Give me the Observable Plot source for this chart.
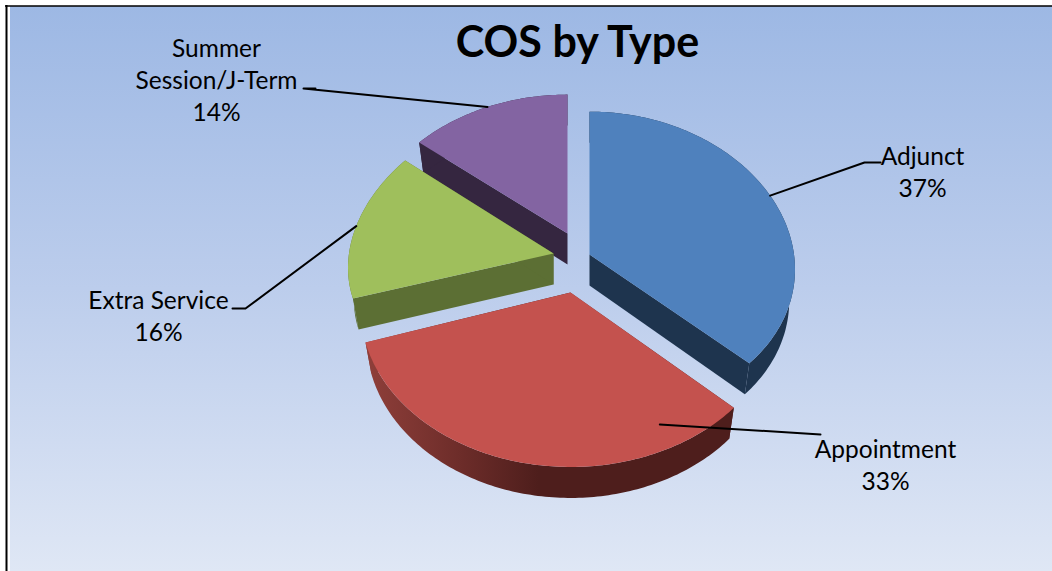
<!DOCTYPE html>
<html><head><meta charset="utf-8">
<style>html,body{margin:0;padding:0;background:#fff}svg{display:block}</style>
<script src="https://cdn.jsdelivr.net/npm/d3@7"></script>
<script src="https://cdn.jsdelivr.net/npm/@observablehq/plot@0.6"></script>
</head><body><div id="chart"></div>
<script>
const categories = ["Adjunct", "Appointment", "Extra Service", "Summer\nSession/J-Term"];
const values = [37, 33, 16, 14];
const title = "COS by Type";

// Appearance and layout, separate from the data
const topColors = ["#4f81bd", "#c4524e", "#9fbf5c", "#8364a2"];
const wallColors = ["#1e344e", "url(#redWall)", "#5c6f34", "#352640"];
const explode = [[17, -8], [-2, 30], [-19, -9], [-5, -29]];
const paintOrder = [3, 2, 0, 1];
const labelAt = [[922, 170], [885, 463], [158, 314], [216, 78]];
const leaderElbow = [[[864, 162], [880, 162]], [[820, 434]], [[245, 308], [232, 308]], [[303, 88], [315, 88]]];
const leaderAnchor = [null, {angle: 153 * Math.PI / 180, r: 0.87}, null, null];
const widen = [204.5, 209, 204.5, 204.5];
const flatten = [152, 157, 146, 150];
const perspY = [0.064, 0.1, 0, 0.08];
const cx = 572, cy = 262, persp = 0.098, depth = 31, inset = 0.972;

const arcs = d3.pie().sort(null).startAngle(0).endAngle(2 * Math.PI)(values);
const rim = (i, t, r = 1) => {
  const c = Math.cos(t) * r;
  return [widen[i] * r * Math.sin(t) / (1 + persp * c), -flatten[i] * c / (1 + perspY[i] * c)];
};
const arcAngles = (a) => {
  const n = Math.max(2, Math.ceil((a.endAngle - a.startAngle) * 60));
  return d3.range(n + 1).map((k) => a.startAngle + (a.endAngle - a.startAngle) * k / n);
};
const poly = (pts, color) => Plot.line(pts, {x: (d) => d[0], y: (d) => d[1], fill: color, stroke: "none"});

const pieMarks = paintOrder.flatMap((i) => {
  const a = arcs[i];
  const ax = cx + explode[i][0], ay = cy + explode[i][1];
  const up = (t) => { const p = rim(i, t); return [ax + p[0], ay + p[1]]; };
  const dn = (t) => { const p = rim(i, t); return [ax + p[0] * inset, ay + p[1] + depth]; };
  const ts = arcAngles(a);
  const cut = (t) => [[ax, ay], up(t), dn(t), [ax, ay + depth]];
  return [
    poly(cut(a.startAngle), wallColors[i]),
    poly(cut(a.endAngle), wallColors[i]),
    poly([...ts.map(up), ...ts.slice().reverse().map(dn)], wallColors[i]),
    poly([[ax, ay], ...ts.map(up)], topColors[i])
  ];
});

const leaderMarks = arcs.map((a, i) => {
  const mid = (a.startAngle + a.endAngle) / 2;
  const anc = leaderAnchor[i] || {angle: mid, r: 1};
  const p = rim(i, anc.angle, anc.r);
  const pts = [[cx + explode[i][0] + p[0], cy + explode[i][1] + p[1]], ...leaderElbow[i]];
  return Plot.line(pts, {x: (d) => d[0], y: (d) => d[1], stroke: "#000", strokeWidth: 2});
});

const labels = categories.map((c, i) => ({text: `${c}\n${values[i]}%`, x: labelAt[i][0], y: labelAt[i][1]}));

const plot = Plot.plot({
  width: 1052, height: 571, margin: 0,
  x: {domain: [0, 1052], range: [0, 1052], axis: null},
  y: {domain: [0, 571], range: [0, 571], axis: null},
  style: {background: "#fff"},
  marks: [
    Plot.rect([0], {x1: 10, x2: 1052, y1: 6, y2: 571, fill: "url(#bg)"}),
    Plot.ruleY([5.5], {x1: 5, x2: 1052, stroke: "#000", strokeWidth: 1.5}),
    Plot.ruleX([6], {y1: 5, y2: 571, stroke: "#000", strokeWidth: 2}),
    ...pieMarks,
    ...leaderMarks,
    Plot.text(labels, {x: "x", y: "y", text: "text", fontFamily: "Lato", fontSize: 24.5, lineHeight: 1.306, fill: "#000", textAnchor: "middle"}),
    Plot.text([title], {x: () => 577, y: () => 43, fontFamily: "Lato", fontWeight: 700, fontSize: 43, fill: "#000", textAnchor: "middle"})
  ]
});

const defs = d3.select(plot).insert("svg:defs", ":first-child");
const grad = (id, attrs, stops) => {
  const g = defs.append("linearGradient").attr("id", id);
  Object.entries(attrs).forEach(([k, v]) => g.attr(k, v));
  stops.forEach(([o, c]) => g.append("stop").attr("offset", o).attr("stop-color", c));
};
grad("bg", {x1: 0, x2: 0, y1: 0, y2: 1}, [[0, "#9db8e4"], [0.5, "#bccdec"], [1, "#dfe7f5"]]);
grad("redWall", {x1: 0, x2: 1, y1: 0, y2: 0}, [[0, "#8f3f3a"], [0.25, "#6e2d2a"], [0.47, "#4e1e1c"], [1, "#4e1e1c"]]);
document.getElementById("chart").append(plot);
</script></body></html>
